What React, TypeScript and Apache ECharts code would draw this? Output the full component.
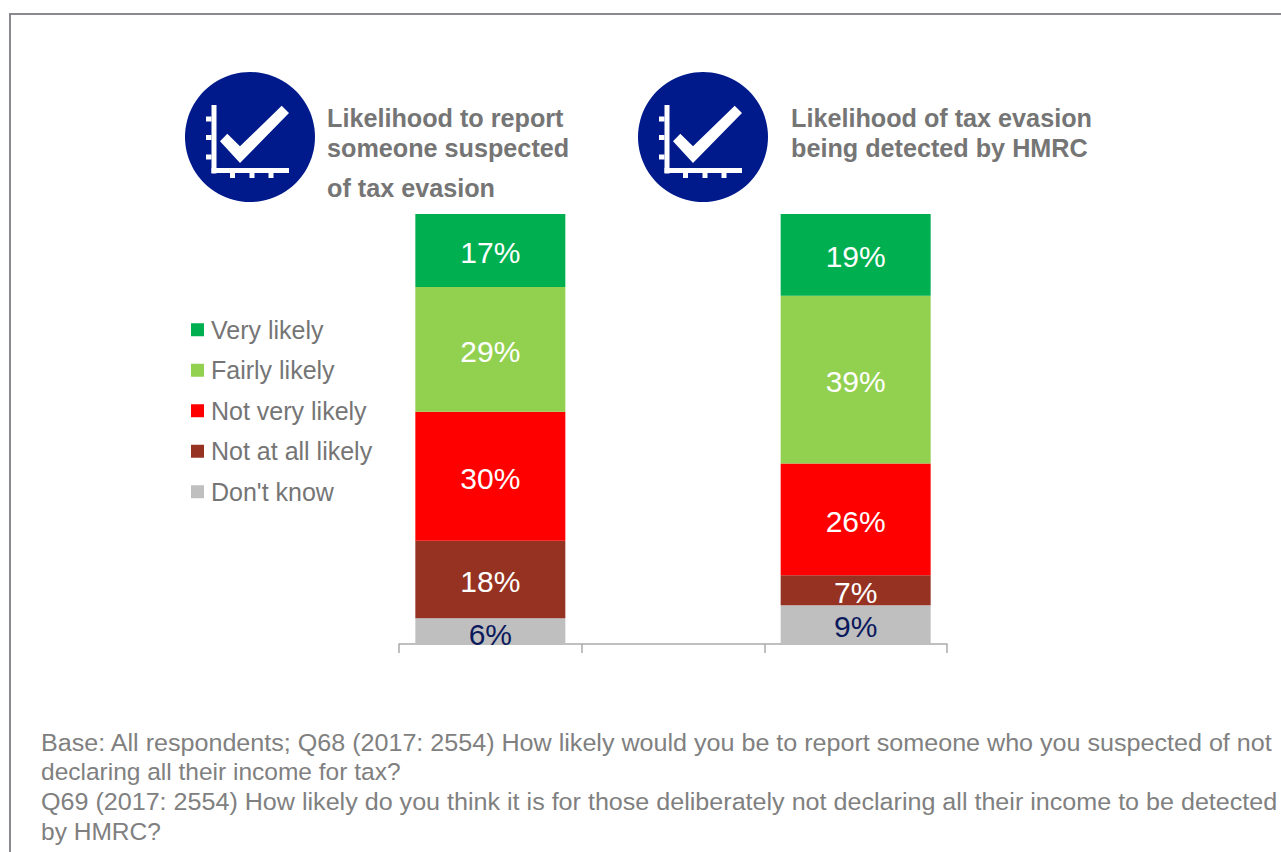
import React, { useEffect, useRef } from "react";
import * as echarts from "echarts";

const categories = ["Likelihood to report", "", "Likelihood of detection"];
const veryLikely = [17, null, 19];
const fairlyLikely = [29, null, 39];
const notVeryLikely = [30, null, 26];
const notAtAllLikely = [18, null, 7];
const dontKnow = [6, null, 9];
const legendNames = ["Very likely", "Fairly likely", "Not very likely", "Not at all likely", "Don't know"];
const titleLeft = ["Likelihood to report", "someone suspected", "of tax evasion"];
const titleRight = ["Likelihood of tax evasion", "being detected by HMRC"];
const footerLines = [
  "Base: All respondents; Q68 (2017: 2554) How likely would you be to report someone who you suspected of not",
  "declaring all their income for tax?",
  "Q69 (2017: 2554) How likely do you think it is for those deliberately not declaring all their income to be detected",
  "by HMRC?",
];

const FONT = "'Liberation Sans', Arial, sans-serif";
const GREY = "#757575";
const NAVY = "#001a8c";

function icon(cx: number, cy: number) {
  const rect = (x: number, y: number, width: number, height: number) => ({
    type: "rect", shape: { x: cx + x, y: cy + y, width, height }, style: { fill: "#fff" },
  });
  return [
    { type: "circle", shape: { cx, cy, r: 65 }, style: { fill: NAVY } },
    rect(-38.5, -32, 5, 68.5),
    rect(-38.5, 31, 77.5, 5),
    rect(-44, -20.5, 5.5, 5), rect(-44, -2, 5.5, 5), rect(-44, 17.5, 5.5, 5),
    rect(-20, 36, 5, 5), rect(-0.5, 36, 5, 5), rect(18.5, 36, 5, 5),
    {
      type: "polygon",
      shape: { points: [[cx - 30, cy + 4.3], [cx - 22.7, cy - 3.3], [cx - 10, cy + 9.3], [cx + 31.7, cy - 31.3], [cx + 39, cy - 24], [cx - 10, cy + 26]] },
      style: { fill: "#fff" },
    },
  ];
}

function textEl(text: string, x: number, y: number, font: string, fill: string, scaleX = 1) {
  return { type: "text", x, y, scaleX, style: { text, font, fill, textVerticalAlign: "middle", textBaseline: "middle" } };
}

const labelOffsets: Record<string, number[]> = { "Don't know:0": [0, 3] };

function stacked(name: string, values: (number | null)[], color: string, labelColor: string) {
  return {
    name,
    type: "bar",
    stack: "total",
    barWidth: 150,
    itemStyle: { color },
    data: values.map((value, i) => ({
      value,
      label: { offset: labelOffsets[`${name}:${i}`] || [0, 2] },
    })),
    label: {
      show: true,
      position: "inside",
      formatter: "{c}%",
      color: labelColor,
      fontFamily: FONT,
      fontSize: 30,
    },
  };
}

export default function App() {
  const ref = useRef<HTMLDivElement>(null);
  useEffect(() => {
    const chart = echarts.init(ref.current!, undefined, { renderer: "svg" });
    const titleFont = `bold 25.2px ${FONT}`;
    const footFont = `24.5px ${FONT}`;
    chart.setOption({
      animation: false,
      backgroundColor: "#fff",
      grid: { left: 399, top: 214, width: 548, height: 430 },
      xAxis: {
        type: "category",
        data: categories,
        axisLine: { lineStyle: { color: "#aaaaaa", width: 1.5 } },
        axisTick: { show: true, length: 9, alignWithLabel: false, lineStyle: { color: "#aaaaaa", width: 1.5 } },
        axisLabel: { show: false },
      },
      yAxis: { type: "value", min: 0, max: 100, show: false, splitLine: { show: false } },
      legend: {
        orient: "vertical",
        left: 186,
        top: 311,
        itemWidth: 13,
        itemHeight: 13,
        itemGap: 13,
        icon: "rect",
        data: legendNames,
        textStyle: { color: GREY, fontFamily: FONT, fontSize: 25, padding: [0, 0, 0, 2], lineHeight: 27.5 },
      },
      series: [
        stacked("Don't know", dontKnow, "#bfbfbf", "#0b1a5c"),
        stacked("Not at all likely", notAtAllLikely, "#963222", "#fff"),
        stacked("Not very likely", notVeryLikely, "#ff0000", "#fff"),
        stacked("Fairly likely", fairlyLikely, "#92d050", "#fff"),
        stacked("Very likely", veryLikely, "#00b050", "#fff"),
      ],
      graphic: [
        { type: "line", shape: { x1: 10, y1: 14, x2: 1281, y2: 14 }, style: { stroke: "#8a8a8e", lineWidth: 2 } },
        { type: "line", shape: { x1: 10, y1: 13, x2: 10, y2: 852 }, style: { stroke: "#8a8a8e", lineWidth: 2 } },
        ...icon(250, 137),
        ...icon(703, 137),
        textEl(titleLeft[0], 327, 118, titleFont, GREY),
        textEl(titleLeft[1], 327, 148, titleFont, GREY),
        textEl(titleLeft[2], 327, 188, titleFont, GREY),
        textEl(titleRight[0], 791, 118, titleFont, GREY),
        textEl(titleRight[1], 791, 148, titleFont, GREY),
        textEl(footerLines[0], 41, 743, footFont, "#808080", 1.025),
        textEl(footerLines[1], 41, 771.5, footFont, "#808080"),
        textEl(footerLines[2], 41, 802, footFont, "#808080", 1.025),
        textEl(footerLines[3], 41, 831.5, footFont, "#808080"),
      ],
    });
    return () => chart.dispose();
  }, []);
  return <div ref={ref} style={{ position: "fixed", left: 0, top: 0, width: 1281, height: 852 }} />;
}
